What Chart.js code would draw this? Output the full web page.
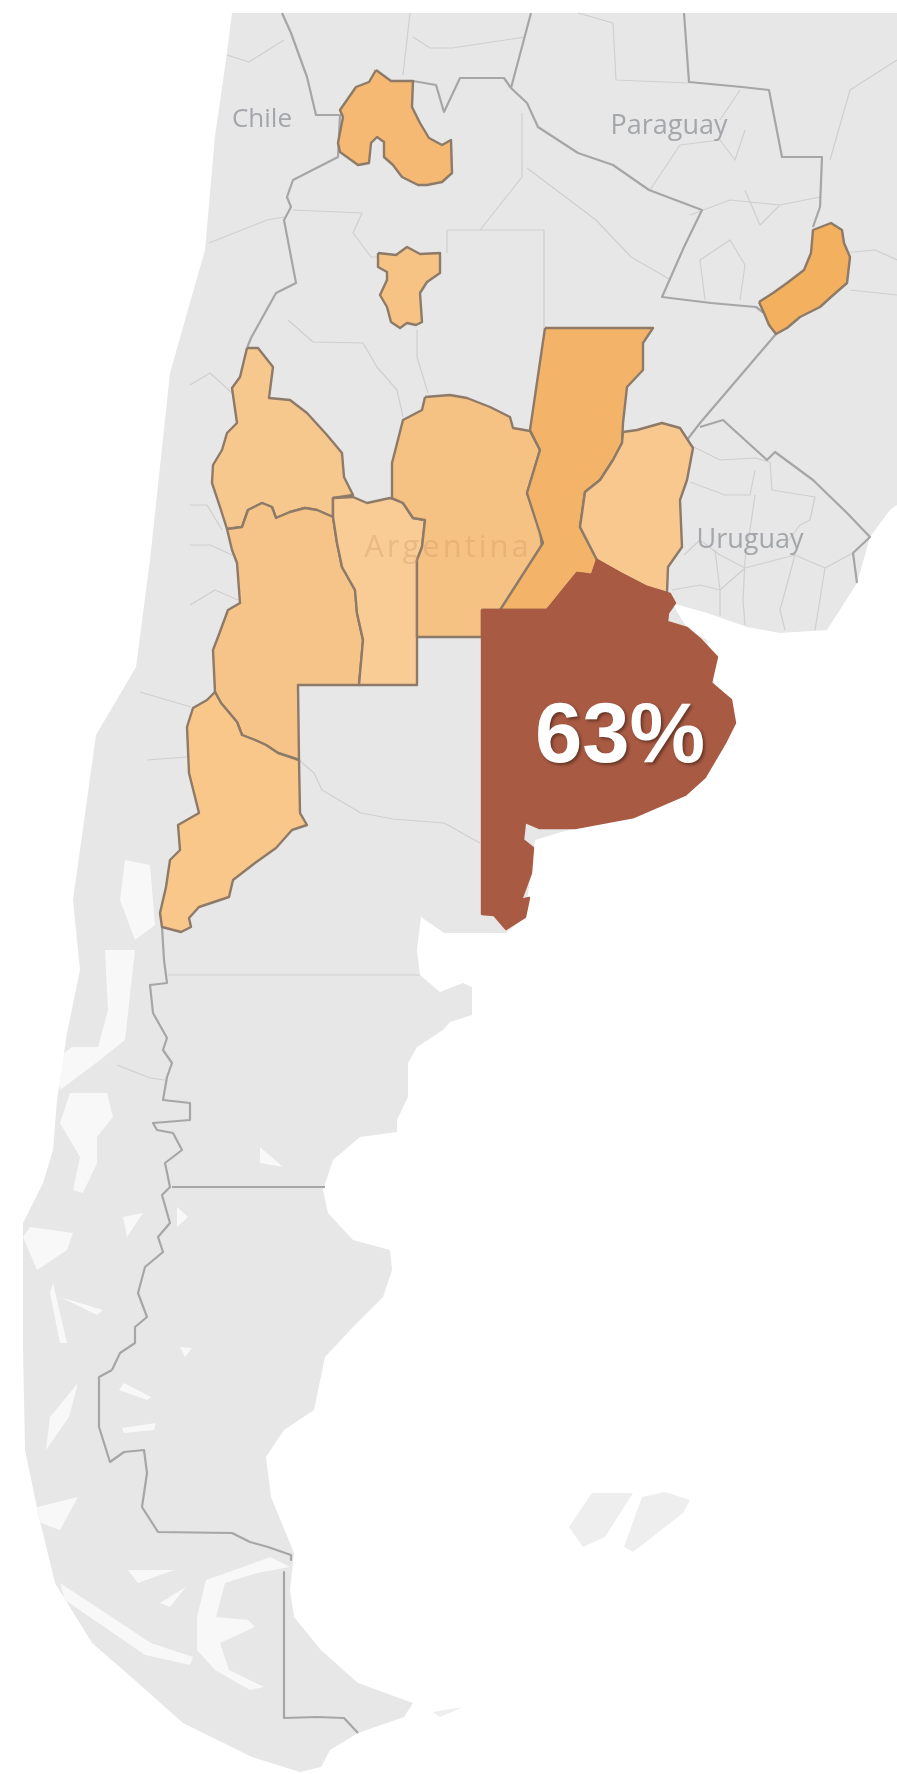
<!DOCTYPE html>
<html>
<head>
<meta charset="utf-8">
<title>Argentina</title>
<style>
  body { margin: 0; background: #fff; }
  canvas { display: block; filter: blur(0.7px); }
</style>
<script src="https://cdn.jsdelivr.net/npm/chart.js@4"></script>
</head>
<body>
<canvas id="mapChart" width="897" height="1774"></canvas>
<script>
// outlines, in map units
const landOutline = [[232,13],[897,13],[897,505],[890,510],[870,537],[857,583],[827,630],[780,633],[747,627],[707,613],[672,603],[687,628],[707,640],[717,700],[735,723],[685,795],[575,828],[535,840],[525,917],[506,933],[472,933],[444,933],[421,917],[417,950],[420,975],[440,992],[463,983],[472,987],[472,1015],[450,1022],[443,1030],[417,1047],[408,1063],[408,1097],[397,1120],[397,1132],[360,1137],[333,1160],[323,1190],[328,1213],[353,1240],[390,1250],[392,1270],[383,1297],[353,1327],[325,1357],[314,1410],[284,1430],[266,1457],[271,1497],[294,1553],[290,1590],[294,1617],[321,1650],[358,1683],[413,1703],[404,1717],[358,1733],[330,1750],[321,1767],[300,1772],[252,1757],[183,1723],[138,1683],[92,1643],[55,1583],[39,1517],[25,1450],[23,1350],[23,1223],[43,1183],[53,1150],[57,1100],[67,1033],[80,970],[73,900],[96,735],[136,667],[150,560],[170,373],[205,250],[215,136],[226,60]];
const falklandWest = [[569,1527],[592,1493],[633,1493],[605,1537],[583,1547]];
const falklandEast = [[624,1547],[642,1497],[665,1492],[690,1500],[683,1513],[633,1552]];
const fuegoIslet = [[433,1712],[463,1707],[440,1717]];

const fjordPatches = [
  [[105,950],[135,950],[125,1040],[100,1060],[60,1090],[55,1060],[72,1047],[98,1047],[108,1010]],
  [[197,1617],[206,1580],[243,1567],[270,1557],[290,1567],[257,1573],[225,1583],[216,1617],[248,1620],[255,1627],[220,1643],[229,1670],[264,1687],[250,1690],[215,1670],[197,1650]],
  [[128,1570],[174,1570],[138,1583]],
  [[160,1603],[186,1587],[170,1607]],
  [[60,1583],[151,1643],[193,1657],[190,1665],[145,1655],[65,1600]],
  [[124,1383],[151,1397],[147,1400],[119,1390]],
  [[122,1428],[156,1423],[154,1430],[124,1433]],
  [[70,1093],[107,1093],[113,1117],[97,1137],[97,1163],[83,1193],[73,1190],[80,1157],[60,1123]],
  [[123,1217],[143,1213],[127,1237]],
  [[30,1227],[73,1233],[67,1250],[37,1270],[23,1237]],
  [[53,1283],[67,1343],[60,1343],[50,1293]],
  [[60,1297],[103,1310],[97,1315]],
  [[177,1207],[188,1217],[177,1227]],
  [[260,1147],[283,1167],[260,1163]],
  [[180,1347],[192,1348],[185,1357]],
  [[50,1417],[78,1383],[69,1417],[46,1450]],
  [[37,1507],[78,1497],[60,1530],[41,1523]],
  [[125,860],[150,865],[155,925],[135,940],[120,900]]
];

const borderLines = [
  [[282,13],[291,33],[307,77],[316,115],[340,115],[338,157],[293,180],[287,197],[291,207],[284,220],[296,283],[276,293],[251,338],[247,348]],
  [[413,81],[436,85],[444,112],[460,78],[504,78],[511,88],[527,103],[538,127],[578,153],[613,165],[649,190],[702,210],[684,247],[662,297],[711,303],[756,307],[764,313]],
  [[511,88],[531,13]],
  [[684,13],[689,82],[742,87],[769,90],[782,157],[822,157],[820,207],[813,227]],
  [[162,927],[164,960],[167,983],[150,985],[153,1013],[167,1038],[163,1050],[172,1063],[167,1077],[163,1100],[190,1103],[190,1120],[153,1123],[157,1130],[173,1133],[182,1150],[165,1163],[170,1187],[162,1195],[170,1223],[158,1237],[163,1252],[145,1267],[138,1293],[147,1317],[135,1327],[135,1343],[120,1353],[112,1370]],
  [[112,1370],[99,1377],[99,1427],[110,1462],[124,1452],[144,1450],[147,1473],[142,1507],[158,1532],[232,1533],[250,1542],[268,1547],[291,1555],[291,1560]],
  [[284,1572],[284,1718],[317,1717],[344,1718],[358,1733]],
  [[776,334],[700,423],[687,440]],
  [[700,427],[723,420],[767,460],[775,452],[813,480],[847,513],[870,537],[853,553],[857,583]],
  [[172,1187],[325,1187]]
];

const faintLines = [
  [[578,13],[613,23],[616,80],[689,83]],
  [[227,55],[249,62],[284,40]],
  [[410,13],[403,75]],
  [[413,37],[430,48],[452,48],[525,37]],
  [[209,243],[267,220],[284,217]],
  [[293,210],[362,213],[353,233],[371,257],[378,257]],
  [[288,320],[313,342],[363,343],[377,367],[397,390],[403,417]],
  [[417,330],[417,357],[428,393]],
  [[447,253],[447,230],[544,230],[544,328]],
  [[480,230],[522,177],[522,113]],
  [[527,168],[596,220],[631,257],[671,280]],
  [[190,385],[210,373],[232,393]],
  [[190,505],[207,505],[222,530]],
  [[190,545],[210,545],[232,555]],
  [[190,605],[215,590],[238,600]],
  [[140,692],[191,707]],
  [[147,760],[187,757]],
  [[299,760],[314,773],[322,790],[361,813],[393,819],[444,823],[480,843]],
  [[168,975],[420,975]],
  [[117,1065],[150,1078],[165,1080]],
  [[690,445],[720,460],[755,458],[770,462]],
  [[690,482],[725,495],[750,495],[755,470]],
  [[755,495],[750,530],[745,560],[743,600],[745,625]],
  [[770,462],[772,490],[815,497],[810,520],[800,525],[785,545]],
  [[672,590],[700,585],[720,590],[745,568],[795,555],[825,568],[853,553]],
  [[715,550],[720,590],[720,615]],
  [[795,555],[780,610],[785,630]],
  [[825,568],[815,630]],
  [[684,555],[700,540],[720,555],[745,568]],
  [[720,120],[740,90]],
  [[650,190],[680,145],[720,140],[735,160],[745,130]],
  [[690,215],[730,200],[780,205],[820,197]],
  [[705,300],[700,260],[730,240],[745,265],[740,300]],
  [[745,190],[760,225],[780,205]],
  [[820,255],[875,250],[897,260]],
  [[850,290],[897,295]],
  [[830,160],[850,90],[897,60]]
];

const provinceNames = ['Jujuy','Tucuman','Misiones','San Juan','Mendoza','San Luis','Neuquen','Cordoba','Santa Fe','Entre Rios','Buenos Aires'];
const jujuy = [[376,70],[391,81],[413,81],[412,107],[420,123],[429,138],[442,145],[451,140],[452,173],[442,182],[427,185],[418,185],[402,177],[393,165],[384,157],[384,142],[377,137],[371,143],[369,163],[358,165],[340,152],[338,143],[343,117],[340,110],[356,87],[369,82]];
const tucuman = [[378,253],[396,255],[407,247],[420,254],[440,253],[440,273],[427,282],[420,293],[422,322],[416,325],[407,323],[400,328],[391,322],[387,307],[380,295],[387,280],[387,272],[378,267]];
const misiones = [[759,302],[773,293],[787,283],[804,270],[811,253],[813,230],[831,223],[842,230],[844,243],[850,257],[847,283],[831,297],[820,307],[800,317],[787,328],[776,334],[769,325],[764,313]];
const sanJuan = [[247,348],[258,348],[273,367],[269,398],[290,400],[307,413],[327,435],[342,453],[344,477],[353,495],[333,498],[333,517],[317,510],[305,508],[290,512],[276,518],[272,507],[262,503],[248,510],[242,527],[227,529],[220,507],[212,483],[213,465],[222,450],[227,433],[237,423],[232,388],[240,377]];
const mendoza = [[227,529],[242,527],[248,510],[262,503],[272,507],[276,518],[290,512],[305,508],[317,510],[333,517],[337,543],[342,567],[355,590],[357,613],[363,640],[359,685],[298,685],[299,760],[278,753],[266,745],[255,740],[242,735],[237,722],[221,703],[215,692],[213,650],[218,637],[228,610],[240,603],[237,563],[232,550]];
const sanLuis = [[333,498],[353,497],[367,503],[390,498],[403,503],[413,518],[425,520],[422,547],[417,560],[417,685],[359,685],[363,640],[357,613],[355,590],[342,567],[337,543],[333,517]];
const neuquen = [[215,692],[221,703],[237,722],[242,735],[255,740],[266,745],[278,753],[299,760],[300,813],[307,825],[292,830],[276,848],[255,863],[233,880],[229,897],[199,907],[189,918],[191,927],[181,932],[162,927],[160,913],[166,887],[170,860],[180,850],[178,825],[199,813],[189,773],[187,727],[193,708],[207,700]];
const cordoba = [[425,397],[450,395],[467,398],[490,407],[510,417],[513,428],[530,431],[540,450],[527,493],[540,530],[542,547],[503,610],[482,610],[482,637],[417,637],[417,560],[422,547],[425,520],[413,518],[403,503],[392,498],[392,463],[403,420],[422,410]];
const santaFe = [[545,328],[653,328],[643,343],[643,370],[627,387],[623,423],[622,443],[613,460],[600,480],[585,492],[580,527],[597,560],[592,575],[577,573],[547,610],[500,610],[543,543],[527,493],[540,450],[530,430]];
const entreRios = [[623,432],[637,430],[662,423],[680,428],[693,448],[687,480],[680,500],[682,547],[668,567],[667,593],[647,587],[620,573],[597,560],[580,527],[585,492],[600,480],[613,460],[622,443]];
const buenosAires = [[482,610],[547,610],[577,573],[592,575],[597,560],[620,573],[647,587],[670,594],[675,603],[668,613],[667,622],[687,628],[701,640],[717,657],[711,683],[731,700],[735,723],[725,743],[705,777],[685,795],[634,817],[575,828],[539,828],[525,822],[523,840],[533,848],[531,873],[521,900],[529,898],[525,917],[506,929],[494,915],[482,914]];
const provinceShapes = [jujuy, tucuman, misiones, sanJuan, mendoza, sanLuis, neuquen, cordoba, santaFe, entreRios, buenosAires];
const provinceColors = ['#f5b974','#f7c384','#f3b05f','#f7c88e','#f6c488','#f9cc96','#f9c78a','#f6c283','#f3b469','#f8c88f','#a85a43'];

const labelTexts = ['Chile','Paraguay','Uruguay'];
const labelX = [262,669,750];
const labelY = [120,126,540];
const labelSizes = [26,27,27];
const faintLabel = 'Argentina';
const faintLabelX = 448;
const faintLabelY = 548;
const shareLabel = '63%';
const shareLabelX = 620;
const shareLabelY = 739;

function toPoints(shape, close) {
  const pts = shape.map(p => ({ x: p[0], y: p[1] }));
  if (close) pts.push(pts[0]);
  return pts;
}

const datasets = [];
function addArea(label, shape, fillColor, lineColor, lineWidth) {
  datasets.push({
    label: label,
    data: toPoints(shape, true),
    showLine: true,
    fill: 'shape',
    backgroundColor: fillColor,
    borderColor: lineColor,
    borderWidth: lineWidth,
    pointRadius: 0,
    tension: 0,
    borderJoinStyle: 'round'
  });
}
function addLine(label, shape, lineColor, lineWidth) {
  datasets.push({
    label: label,
    data: toPoints(shape, false),
    showLine: true,
    fill: false,
    borderColor: lineColor,
    borderWidth: lineWidth,
    pointRadius: 0,
    tension: 0,
    borderJoinStyle: 'round'
  });
}

addArea('Land', landOutline, '#e7e7e7', 'rgba(230,230,230,0)', 0);
addArea('Falkland W', falklandWest, '#eeeeee', 'rgba(230,230,230,0)', 0);
addArea('Falkland E', falklandEast, '#eeeeee', 'rgba(230,230,230,0)', 0);
addArea('Islet', fuegoIslet, '#eeeeee', 'rgba(230,230,230,0)', 0);
fjordPatches.forEach((p, i) => addArea('Fjord ' + i, p, 'rgba(255,255,255,0.7)', 'rgba(255,255,255,0)', 0));
faintLines.forEach((l, i) => addLine('Faint ' + i, l, '#cfcfcf', 1.2));
borderLines.forEach((l, i) => addLine('Border ' + i, l, '#a6a6a6', 2.2));
provinceShapes.forEach((s, i) => {
  const edge = i === provinceShapes.length - 1 ? '#a85a43' : '#8d7a68';
  addArea(provinceNames[i], s, provinceColors[i], edge, 2.4);
});
// first dataset is painted last by default, so flip that
datasets.forEach((d, i) => { d.order = datasets.length - i; });

const mapLabels = {
  id: 'mapLabels',
  afterDatasetsDraw(chart) {
    const { ctx, scales } = chart;
    ctx.save();
    ctx.textAlign = 'center';
    ctx.textBaseline = 'middle';
    ctx.fillStyle = '#a3a6aa';
    labelTexts.forEach((t, i) => {
      ctx.font = labelSizes[i] + 'px "Open Sans"';
      ctx.fillText(t, scales.x.getPixelForValue(labelX[i]), scales.y.getPixelForValue(labelY[i]));
    });

    ctx.fillStyle = 'rgba(205,150,100,0.35)';
    ctx.font = '31px "Open Sans"';
    ctx.letterSpacing = '3px';
    ctx.fillText(faintLabel, scales.x.getPixelForValue(faintLabelX), scales.y.getPixelForValue(faintLabelY));
    ctx.letterSpacing = '0px';

    ctx.fillStyle = '#fff';
    ctx.font = 'bold 85px "Liberation Sans"';
    ctx.shadowColor = 'rgba(60,30,20,0.6)';
    ctx.shadowOffsetX = 2;
    ctx.shadowOffsetY = 2;
    ctx.shadowBlur = 3;
    ctx.fillText(shareLabel, scales.x.getPixelForValue(shareLabelX), scales.y.getPixelForValue(shareLabelY));
    ctx.restore();
  }
};

new Chart(document.getElementById('mapChart'), {
  type: 'scatter',
  data: { datasets: datasets },
  options: {
    responsive: false,
    animation: false,
    layout: { padding: 0 },
    scales: {
      x: { type: 'linear', min: 0, max: 897, display: false },
      y: { type: 'linear', min: 0, max: 1774, reverse: true, display: false }
    },
    plugins: {
      legend: { display: false },
      tooltip: { enabled: false },
      title: { display: false }
    }
  },
  plugins: [mapLabels]
});
</script>
</body>
</html>
